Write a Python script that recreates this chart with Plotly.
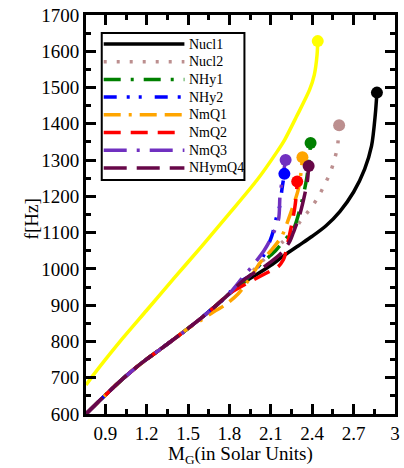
import plotly.graph_objects as go

# ---------------- data ----------------
names = ["Nucl1", "Nucl2", "NHy1", "NHy2", "NmQ1", "NmQ2", "NmQ3", "NHymQ4"]

yellow_x = [0.76, 0.8, 0.9, 1.0, 1.2, 1.4, 1.6, 1.8, 2.0, 2.143, 2.2, 2.286, 2.381, 2.415, 2.435, 2.44]
yellow_y = [680, 701, 750, 797, 886, 975, 1063, 1153, 1245, 1322, 1356, 1420, 1494, 1535, 1590, 1628]

nucl1_x = [0.76, 0.8, 0.9, 1.0, 1.1, 1.2, 1.3, 1.4, 1.5, 1.6, 1.7, 1.8, 1.9, 2.0, 2.1, 2.2, 2.3, 2.4,
           2.5, 2.6, 2.7, 2.78, 2.83, 2.857, 2.869]
nucl1_y = [600, 615, 652, 688, 721, 751, 779, 807, 836, 866, 898, 932, 962, 985, 1010, 1038, 1064, 1090,
           1119, 1158, 1212, 1275, 1339, 1425, 1486]

nucl2_x = [0.76, 0.8, 0.9, 1.0, 1.1, 1.2, 1.3, 1.4, 1.5, 1.6, 1.7, 1.8, 1.9, 1.97, 2.048, 2.119, 2.19,
           2.262, 2.321, 2.381, 2.44, 2.488, 2.529, 2.56, 2.583, 2.595]
nucl2_y = [600, 615, 652, 688, 721, 751, 779, 807, 836, 866, 898, 932, 962, 995, 1025, 1053, 1076,
           1103, 1135, 1163, 1196, 1231, 1264, 1300, 1337, 1396]

nhy1_x = [0.76, 0.8, 0.9, 1.0, 1.1, 1.2, 1.3, 1.4, 1.5, 1.6, 1.7, 1.8, 1.9, 1.97, 2.036, 2.12, 2.2,
          2.262, 2.321, 2.36, 2.381, 2.388]
nhy1_y = [600, 615, 652, 688, 721, 751, 779, 807, 836, 866, 898, 932, 962, 990, 1017, 1045, 1080,
          1108, 1180, 1250, 1313, 1347]

nhy2_x = [0.76, 0.8, 0.9, 1.0, 1.1, 1.2, 1.3, 1.4, 1.5, 1.6, 1.7, 1.8, 1.82, 1.976, 2.05, 2.107, 2.14,
          2.167, 2.18, 2.198]
nhy2_y = [600, 615, 652, 688, 721, 751, 779, 807, 836, 866, 898, 932, 951, 989, 1039, 1091, 1141,
          1177, 1218, 1262]

nmq1_x = [0.76, 0.8, 0.9, 1.0, 1.1, 1.2, 1.3, 1.4, 1.5, 1.6, 1.7, 1.77, 1.86, 1.95, 2.02, 2.107, 2.179,
          2.226, 2.298, 2.32, 2.329]
nmq1_y = [600, 615, 652, 688, 721, 751, 779, 807, 836, 860, 885, 901, 930, 975, 1016, 1053, 1090,
          1135, 1218, 1270, 1308]

nmq2_x = [0.76, 0.8, 0.9, 1.0, 1.1, 1.2, 1.3, 1.4, 1.5, 1.6, 1.7, 1.8, 1.93, 2.02, 2.1, 2.155, 2.19,
          2.2, 2.226, 2.25, 2.274, 2.286, 2.291]
nmq2_y = [600, 615, 652, 688, 721, 751, 779, 807, 836, 866, 898, 932, 961, 979, 995, 1007, 1025,
          1034, 1078, 1120, 1170, 1210, 1241]

nmq3_x = [0.76, 0.8, 0.9, 1.0, 1.1, 1.2, 1.3, 1.4, 1.5, 1.6, 1.7, 1.8, 1.893, 1.964, 2.05, 2.095,
          2.155, 2.166, 2.18, 2.207]
nmq3_y = [600, 615, 652, 688, 721, 751, 779, 807, 836, 866, 898, 932, 975, 1007, 1050, 1080,
          1135, 1200, 1240, 1300]

nhymq4_x = [0.76, 0.8, 0.9, 1.0, 1.1, 1.2, 1.3, 1.4, 1.5, 1.6, 1.7, 1.8, 1.905, 2.07, 2.179, 2.24,
            2.262, 2.31, 2.364, 2.374]
nhymq4_y = [600, 615, 652, 688, 721, 751, 779, 807, 836, 866, 898, 932, 970, 1011, 1045, 1078,
            1099, 1150, 1240, 1284]

x_ticks = [0.9, 1.2, 1.5, 1.8, 2.1, 2.4, 2.7, 3.0]
x_ticklabels = ["0.9", "1.2", "1.5", "1.8", "2.1", "2.4", "2.7", "3"]

# ---------------- styles ----------------
series = [
    (nucl1_x, nucl1_y, "#000000", "solid"),
    (nucl2_x, nucl2_y, "#BC8F8F", "3px,10px"),
    (nhy1_x, nhy1_y, "#008000", "17px,10px,3px,10px"),
    (nhy2_x, nhy2_y, "#0000FF", "13px,10px,3px,9px,3px,13px"),
    (nmq1_x, nmq1_y, "#FFA500", "17px,8px,3px,8px,17px,8px"),
    (nmq2_x, nmq2_y, "#FF0000", "17px,10px"),
    (nmq3_x, nmq3_y, "#7030C0", "23px,10px,3px,10px"),
    (nhymq4_x, nhymq4_y, "#670748", "23px,10px"),
]

FONT = "Liberation Serif, Times New Roman, serif"
LW = 3.5

fig = go.Figure()

fig.add_trace(go.Scatter(x=yellow_x, y=yellow_y, mode="lines",
                         line=dict(color="#FFFF00", width=LW, shape="spline", smoothing=0.8),
                         showlegend=False, hoverinfo="skip"))
fig.add_trace(go.Scatter(x=[yellow_x[-1]], y=[yellow_y[-1]], mode="markers",
                         marker=dict(color="#FFFF00", size=12), showlegend=False))

for name, (xs, ys, col, dash) in zip(names, series):
    fig.add_trace(go.Scatter(x=xs, y=ys, mode="lines", name=name, showlegend=False,
                             line=dict(color=col, width=LW, dash=dash, shape="spline", smoothing=0.8)))
for name, (xs, ys, col, dash) in zip(names, series):
    fig.add_trace(go.Scatter(x=[xs[-1]], y=[ys[-1]], mode="markers",
                             marker=dict(color=col, size=12), showlegend=False))

axis_common = dict(
    showline=True, linewidth=3, linecolor="black", mirror="ticks",
    ticks="inside", ticklen=10, tickwidth=2.5, tickcolor="black",
    showgrid=False, zeroline=False,
    tickfont=dict(family=FONT, size=19, color="black"),
)

fig.update_xaxes(
    range=[0.76, 3.0], tickvals=x_ticks, ticktext=x_ticklabels,
    minor=dict(ticks="inside", ticklen=5, tickwidth=2.5, tickcolor="black", dtick=0.15, tick0=0.9),
    **axis_common,
)
fig.update_yaxes(
    range=[600, 1700], dtick=100, tick0=600,
    minor=dict(ticks="inside", ticklen=5, tickwidth=2.5, tickcolor="black", dtick=50, tick0=600),
    **axis_common,
)

# axis titles
fig.add_annotation(text="f[Hz]", xref="paper", yref="paper", x=-0.175, y=0.49,
                   textangle=-90, showarrow=False, xanchor="center", yanchor="middle",
                   font=dict(family=FONT, size=19, color="black"))
fig.add_annotation(text="M<sub>G</sub>(in Solar Units)", xref="paper", yref="paper",
                   x=0.5, y=-0.102, showarrow=False, xanchor="center", yanchor="middle",
                   font=dict(family=FONT, size=19, color="black"))

# ---------------- legend (drawn in paper coordinates) ----------------
PLOT_L, PLOT_T, PLOT_W, PLOT_H = 86, 15, 314, 399
def px2paper(px, py):
    return (px - PLOT_L) / PLOT_W, (PLOT_T + PLOT_H - py) / PLOT_H

bx0, by0 = px2paper(102, 33)
bx1, by1 = px2paper(247, 180)
fig.add_shape(type="rect", xref="paper", yref="paper", x0=bx0, y0=by0, x1=bx1, y1=by1,
              line=dict(color="black", width=2), fillcolor="white", layer="above")
for i, (name, (xs, ys, col, dash)) in enumerate(zip(names, series)):
    ly = 44 + i * 17.7
    lx0, lyp = px2paper(104, ly)
    lx1, _ = px2paper(186, ly)
    tx, _ = px2paper(189, ly)
    fig.add_shape(type="line", xref="paper", yref="paper", x0=lx0, x1=lx1, y0=lyp, y1=lyp,
                  line=dict(color=col, width=LW, dash=dash), layer="above")
    fig.add_annotation(text=name, xref="paper", yref="paper", x=tx, y=lyp,
                       xanchor="left", yanchor="middle", showarrow=False,
                       font=dict(family=FONT, size=14, color="black"))

fig.update_layout(
    width=404, height=468, autosize=False,
    margin=dict(l=86, r=4, t=15, b=54),
    paper_bgcolor="white", plot_bgcolor="white",
    font=dict(family=FONT, color="black"),
    showlegend=False,
)

fig.write_html("out.html", config={"displayModeBar": False},
               post_script="document.body.style.margin='0';document.body.style.overflow='hidden';")
